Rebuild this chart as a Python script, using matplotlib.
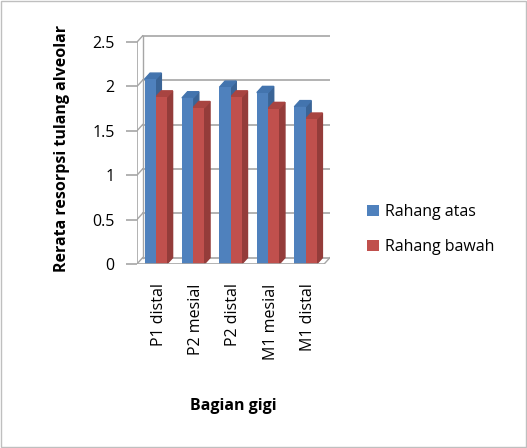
import matplotlib
matplotlib.use("Agg")
import matplotlib.pyplot as plt
import numpy as np
from matplotlib.patches import Rectangle, Polygon

categories = ["P1 distal", "P2 mesial", "P2 distal", "M1 mesial", "M1 distal"]
rahang_atas = [2.08, 1.87, 1.99, 1.93, 1.77]
rahang_bawah = [1.88, 1.76, 1.88, 1.75, 1.63]
yticks = [0, 0.5, 1, 1.5, 2, 2.5]

plt.rcParams['font.family'] = ['Open Sans', 'DejaVu Sans']

fig = plt.figure(figsize=(5.27, 4.48), dpi=100)
ax = fig.add_axes([0.26, 0.411, 0.366, 0.515])

x = np.arange(len(categories))
w = 0.3
dx, dy = 0.15, 0.07
blue = "#4F81BD"
red = "#C0504D"
grid_c = "#A6A6A6"

xl, xr = -0.5, len(categories) - 0.5 + dx
ymax = yticks[-1]

# back-wall gridlines and front-to-back connectors
for yv in yticks:
    ax.plot([xl + dx, xr], [yv + dy, yv + dy], color=grid_c, lw=1.2, zorder=0)
    ax.plot([xl, xl + dx], [yv, yv + dy], color=grid_c, lw=1.0, zorder=0)
ax.plot([xl, xl], [0, ymax], color=grid_c, lw=1.2, zorder=1)
ax.plot([xl + dx, xl + dx], [dy, ymax + dy], color=grid_c, lw=1.0, zorder=0)
# floor front edge and right connector
ax.plot([xl, xr - dx], [0, 0], color=grid_c, lw=1.2, zorder=4)
ax.plot([xr - dx, xr], [0, dy], color=grid_c, lw=1.0, zorder=4)

b1 = ax.bar(x - w/2, rahang_atas, w, color=blue, label="Rahang atas", zorder=3)
b2 = ax.bar(x + w/2, rahang_bawah, w, color=red, label="Rahang bawah", zorder=3)

# pseudo-3D sides and tops
for bars, side_c, top_c in ((b1, "#3A6496", "#4374AE"), (b2, "#943C3A", "#A84441")):
    for r in bars:
        x0 = r.get_x()
        x1 = x0 + r.get_width()
        h = r.get_height()
        ax.add_patch(Polygon([[x1, 0], [x1 + dx, dy], [x1 + dx, h + dy], [x1, h]],
                             closed=True, color=side_c, zorder=2.5))
        ax.add_patch(Polygon([[x0, h], [x0 + dx, h + dy], [x1 + dx, h + dy], [x1, h]],
                             closed=True, color=top_c, zorder=2.5))

ax.set_xlim(xl, xr)
ax.set_ylim(0, ymax + 0.1)
ax.set_yticks(yticks)
ax.set_yticklabels(["0", "0.5", "1", "1.5", "2", "2.5"], fontsize=11.5)
ax.set_xticks(x + dx / 2)
ax.set_xticklabels(categories, rotation=90, fontsize=11.5)
for s in ["top", "right", "left", "bottom"]:
    ax.spines[s].set_visible(False)
ax.tick_params(axis="y", color=grid_c, length=8, width=1.2, pad=8)
ax.tick_params(axis="x", length=0, pad=14)

ax.set_ylabel("Rerata resorpsi tulang alveolar", fontsize=11.5, fontweight="bold", labelpad=16)
ax.set_xlabel("Bagian gigi", fontsize=11.5, fontweight="bold", labelpad=28)

fig.legend(handles=[b1, b2], loc="center left", bbox_to_anchor=(0.67, 0.488),
           frameon=False, fontsize=11.5, handlelength=0.7, handleheight=0.7,
           labelspacing=1.2, handletextpad=0.4)

fig.patches.append(Rectangle((0.002, 0.002), 0.996, 0.996, transform=fig.transFigure,
                             fill=False, edgecolor="#BFBFBF", linewidth=1))

fig.savefig("out.png", dpi=100)
